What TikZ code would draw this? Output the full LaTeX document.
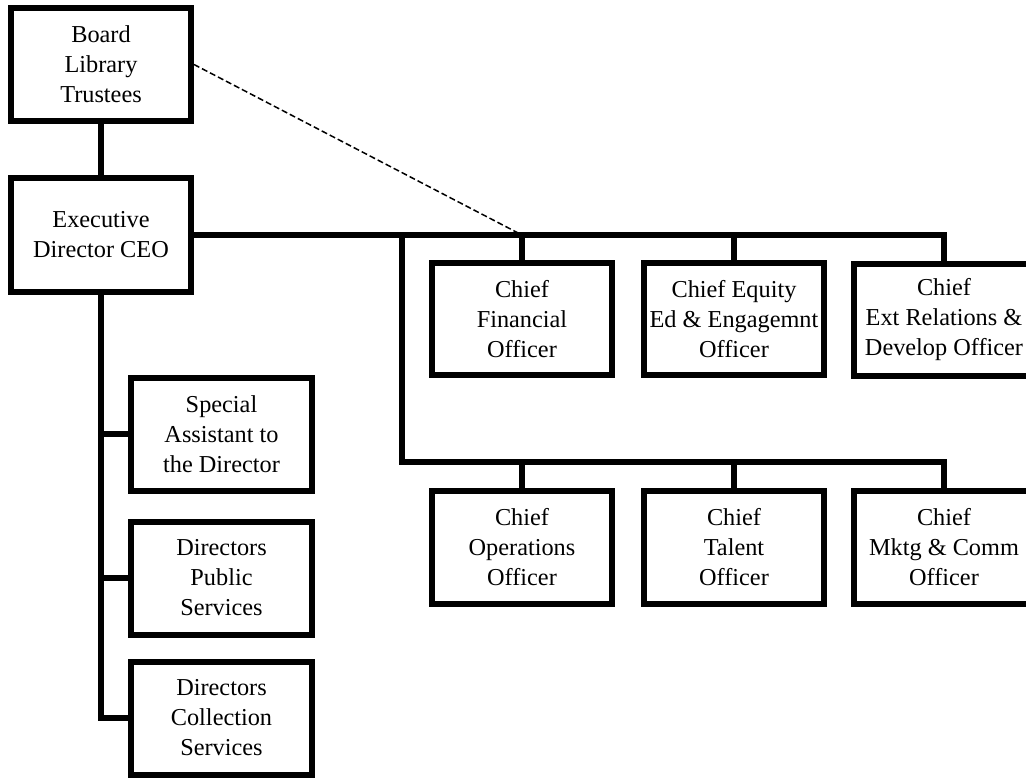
\documentclass[tikz,border=0pt]{standalone}
\usepackage{fontspec}
\setmainfont{Liberation Serif}
\usepackage{tikz}
\usetikzlibrary{positioning}
\tikzset{font={\fontsize{24.3pt}{30pt}\selectfont}}

\begin{document}
\begin{tikzpicture}[x=1pt,y=-1pt,
box/.style={draw,line width=6pt,align=center,inner sep=0pt,minimum width=180pt,minimum height=113pt},
link/.style={line width=6pt},
dotted link/.style={line width=1.5pt,dash pattern=on 6pt off 3pt}
]
\useasboundingbox (0,0) rectangle (1026,777);
\clip (0,0) rectangle (1026,777);

\node[box] (board) at (101,64.5) {Board\\Library\\Trustees};
\node[box,minimum height=114pt] (exec) at (101,235) {Executive\\Director CEO};

\node[box,minimum width=181pt] (sa) at (221.5,434) {Special\\Assistant to\\the Director};
\node[box,minimum width=181pt] (dps) at (221.5,578) {Directors\\Public\\Services};
\node[box,minimum width=181pt] (dcs) at (221.5,718) {Directors\\Collection\\Services};

\node[box,minimum height=112pt] (cfo) at (522,319) {Chief\\Financial\\Officer};
\node[box,minimum height=112pt] (ceeo) at (734,319) {Chief Equity\\Ed \& Engagemnt\\Officer};
\node[box,minimum height=112pt] (cero) at (944,320) {Chief\\Ext Relations \&\\Develop Officer};

\node[box] (coo) at (522,547.5) {Chief\\Operations\\Officer};
\node[box] (cto) at (734,547.5) {Chief\\Talent\\Officer};
\node[box] (cmo) at (944,547.5) {Chief\\Mktg \& Comm\\Officer};

\coordinate (fork) at (402,462);

% board and ceo
\draw[link] (board) -- (exec);
\draw[dotted link] (board.east) -- (cfo.north |- exec.east);

% top row
\draw[link] (exec.east) -- (cero.north |- exec.east) -- (cero.north);
\draw[link] (cfo.north) -- (cfo.north |- exec.east);
\draw[link] (ceeo.north) -- (ceeo.north |- exec.east);

% bottom row
\draw[link] (fork |- exec.east) -- (fork) -- (fork -| cmo.north) -- (cmo.north);
\draw[link] (coo.north) -- (coo.north |- fork);
\draw[link] (cto.north) -- (cto.north |- fork);

% left column
\draw[link] (exec.south) |- (dcs.west);
\draw[link] (exec.south |- sa.west) -- (sa.west);
\draw[link] (exec.south |- dps.west) -- (dps.west);

\end{tikzpicture}
\end{document}
